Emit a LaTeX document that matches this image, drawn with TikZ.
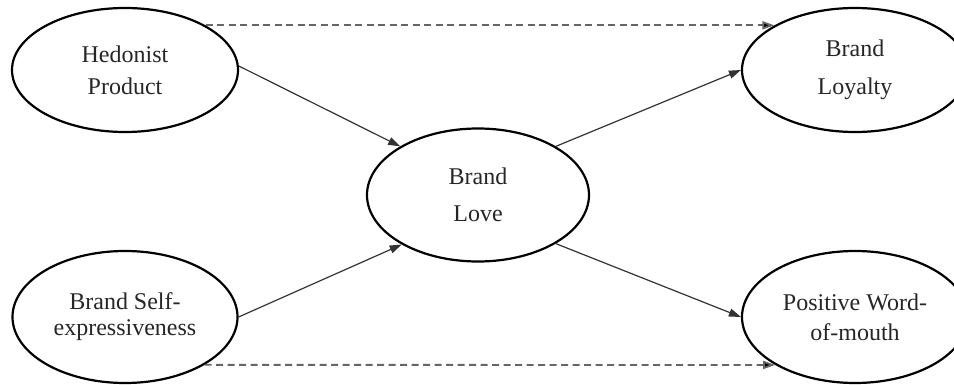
\documentclass[tikz,border=0pt]{standalone}
\usepackage{fontspec}
\setmainfont{Liberation Serif}
\usetikzlibrary{shapes.geometric,arrows.meta}
\begin{document}
\begin{tikzpicture}[x=1pt,y=-1pt,
  ell/.style={ellipse, draw=black, line width=2.2pt, inner sep=0pt, align=center,
    text=black!85, font=\fontsize{24}{#1}\selectfont},
  conn/.style={line width=1.2pt, draw=black!80, -{Triangle[length=12pt,width=8pt]}},
  dconn/.style={line width=1.8pt, draw=black!60, dash pattern=on 7pt off 4.5pt,
    -{Triangle[length=12pt,width=8pt,fill=black]}}]
\useasboundingbox (0,0) rectangle (954,385);
\clip (0,0) rectangle (954,385);
\fill[white] (0,0) rectangle (954,385);
\node[ell=32, minimum width=226pt, minimum height=124pt] (hed) at (125,70) {Hedonist\\Product};
\node[ell=26, minimum width=225pt, minimum height=132pt] (self) at (125,317) {Brand Self-\\expressiveness};
\node[ell=37, minimum width=222pt, minimum height=133pt] (love) at (478,195) {Brand\\Love};
\node[ell=38, minimum width=226pt, minimum height=124pt] (loy) at (855,70) {Brand\\Loyalty};
\node[ell=30, minimum width=226pt, minimum height=132pt] (wom) at (855,317) {Positive Word-\\of-mouth};
\draw[conn] (hed.2) -- (love.148);
\draw[conn] (self.east) -- (love.213);
\draw[conn] (love.32) -- (loy.west);
\draw[conn] (love.-32) -- (wom.west);
\draw[dconn] (hed.29) -- (loy.151);
\draw[dconn] (self.-31) -- (wom.211);
\end{tikzpicture}
\end{document}
